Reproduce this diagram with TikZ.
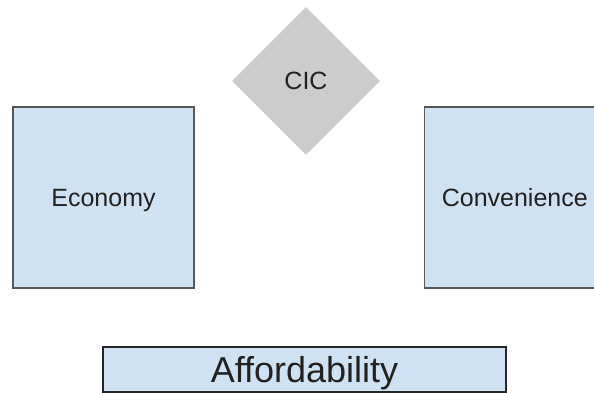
\documentclass[tikz,border=0pt]{standalone}
\usepackage{fontspec}
\setmainfont{Liberation Sans}
\usetikzlibrary{shapes.geometric,positioning}

\definecolor{boxblue}{HTML}{CFE2F3}
\definecolor{boxline}{HTML}{595959}
\definecolor{diagray}{HTML}{CCCCCC}
\definecolor{ink}{HTML}{222222}

\begin{document}
\begin{tikzpicture}[x=1pt,y=-1pt,
    every node/.style={text=ink, font=\fontsize{25}{30}\selectfont,
      text height=18pt, text depth=0pt},
    area/.style={draw=boxline, line width=1.3pt, fill=boxblue,
      minimum width=181pt, minimum height=181pt, inner sep=0pt},
    hub/.style={diamond, aspect=1, fill=diagray, inner sep=0pt,
      minimum width=148pt, minimum height=148pt}]
  \path[use as bounding box, clip] (0,0) rectangle (594,393);
  \node[hub] (cic) at (306,81) {CIC};
  \node[area] (economy) at (103.5,197.5) {Economy};
  \node[area, right=229pt of economy] (convenience) {Convenience};
  \node[draw=black!85, line width=1.3pt, fill=boxblue, inner sep=0pt,
    minimum width=403pt, minimum height=45pt, text height=26pt,
    font=\fontsize{36}{40}\selectfont] (afford) at (304.5,369.5) {Affordability};
\end{tikzpicture}
\end{document}
